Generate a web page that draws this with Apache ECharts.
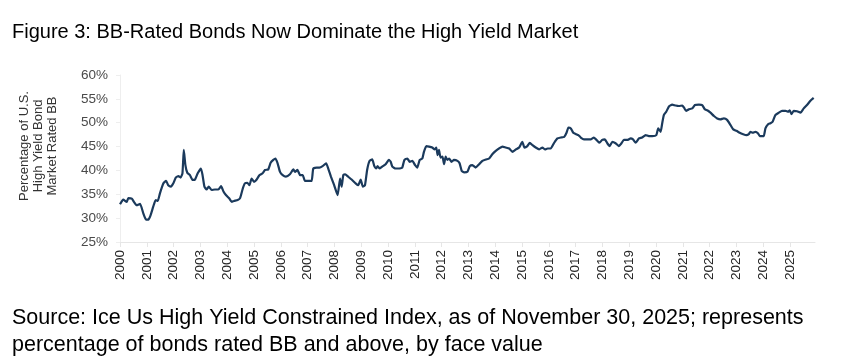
<!DOCTYPE html>
<html>
<head>
<meta charset="utf-8">
<script src="https://cdn.jsdelivr.net/npm/echarts@6/dist/echarts.min.js"></script>
<style>
html,body{margin:0;padding:0;background:#fff;}
#chart{width:849px;height:363px;}
</style>
</head>
<body>
<div id="chart"></div>
<script>
// Decimal-year positions of readings, one line per year
const dates = [
  2000.00,2000.12,2000.25,2000.31,2000.44,2000.52,2000.62,2000.75,2000.87,2000.97,
  2001.06,2001.14,2001.24,2001.33,2001.41,2001.49,2001.62,2001.72,2001.80,2001.90,2001.99,
  2002.08,2002.18,2002.26,2002.33,2002.38,2002.44,2002.51,2002.61,2002.71,2002.80,2002.90,
  2003.02,2003.08,2003.15,2003.23,2003.31,2003.42,2003.54,2003.67,2003.77,2003.86,2003.96,
  2004.08,2004.17,2004.25,2004.39,2004.48,2004.58,2004.66,2004.75,2004.83,2004.91,
  2005.00,2005.10,2005.20,2005.32,2005.41,2005.53,2005.62,2005.72,2005.80,2005.88,2005.97,
  2006.07,2006.19,2006.34,2006.47,2006.53,2006.62,2006.72,2006.82,2006.90,
  2007.03,2007.15,2007.21,2007.34,2007.44,2007.56,2007.69,2007.77,2007.87,2007.99,
  2008.12,2008.21,2008.27,2008.33,2008.40,2008.51,2008.66,2008.79,2008.89,2008.98,
  2009.06,2009.14,2009.22,2009.31,2009.41,2009.49,2009.56,2009.61,2009.68,2009.78,2009.91,
  2010.03,2010.10,2010.16,2010.28,2010.41,2010.53,2010.61,2010.72,2010.81,2010.91,
  2011.01,2011.09,2011.18,2011.28,2011.34,2011.43,2011.53,2011.65,2011.74,2011.80,2011.85,2011.90,2011.96,
  2012.03,2012.09,2012.15,2012.21,2012.28,2012.37,2012.46,2012.59,2012.67,2012.75,2012.84,2012.96,
  2013.05,2013.15,2013.27,2013.40,2013.52,2013.65,2013.77,2013.89,
  2014.02,2014.14,2014.27,2014.39,2014.52,2014.64,2014.77,2014.89,
  2015.01,2015.09,2015.20,2015.29,2015.39,2015.51,2015.64,2015.76,2015.86,2015.95,
  2016.07,2016.20,2016.32,2016.45,2016.57,2016.66,2016.73,2016.82,2016.91,
  2017.02,2017.10,2017.19,2017.31,2017.43,2017.56,2017.68,2017.81,2017.89,2017.99,
  2018.09,2018.18,2018.27,2018.37,2018.49,2018.61,2018.71,2018.80,2018.93,
  2019.05,2019.14,2019.24,2019.36,2019.48,2019.61,2019.73,2019.86,
  2020.01,2020.08,2020.17,2020.23,2020.29,2020.38,2020.48,2020.60,2020.73,2020.85,2020.98,
  2021.04,2021.12,2021.22,2021.35,2021.45,2021.60,2021.72,2021.82,2021.91,
  2022.03,2022.16,2022.28,2022.40,2022.53,2022.65,2022.78,2022.88,
  2023.00,2023.12,2023.25,2023.37,2023.46,2023.52,2023.61,2023.71,2023.80,2023.87,2023.96,
  2024.02,2024.08,2024.18,2024.27,2024.35,2024.45,2024.58,2024.70,2024.83,2024.93,2024.99,
  2025.05,2025.14,2025.26,2025.39,2025.51,2025.63,2025.76,2025.88
];
// Percentage of U.S. high yield market rated BB (and above)
const bbShare = [
  32.9,33.9,33.4,34.2,34.1,33.4,32.7,33.0,31.0,29.7,
  29.7,30.6,32.4,33.8,33.6,35.2,37.3,37.8,36.9,36.6,37.3,
  38.5,38.8,38.5,39.4,44.3,41.1,39.5,39.0,38.0,38.1,39.4,
  40.4,39.0,36.6,36.0,36.6,35.9,36.0,36.0,36.7,35.6,34.8,
  34.1,33.4,33.6,33.8,34.2,36.2,37.3,37.4,36.9,38.3,
  37.6,38.1,39.0,39.4,40.1,40.2,41.6,42.2,42.5,41.5,39.7,
  39.0,38.7,39.2,40.2,39.7,40.1,39.0,39.0,37.8,
  37.8,37.8,40.4,40.6,40.6,40.9,41.5,40.4,38.7,36.9,
  34.8,38.3,36.6,39.0,39.2,38.7,38.0,37.3,36.9,38.1,
  36.6,36.9,40.1,42.0,42.3,40.9,40.4,40.9,40.4,40.8,41.3,
  42.2,41.8,40.8,40.4,40.4,40.6,42.2,42.5,41.8,42.0,
  41.1,40.6,42.2,42.5,43.9,45.1,45.0,44.8,44.4,44.8,43.2,44.3,42.7,
  42.9,41.3,42.9,42.2,42.5,41.8,42.2,42.0,41.5,39.9,39.6,39.7,
  40.9,41.1,40.6,41.3,42.0,42.3,42.5,43.4,
  44.1,44.6,45.0,44.8,44.6,43.9,44.4,44.8,
  46.0,44.8,45.1,45.8,45.3,44.8,44.4,44.8,44.4,44.6,
  44.6,45.8,46.7,46.9,47.0,47.9,49.0,48.8,47.9,
  47.6,47.4,46.9,46.5,46.5,46.5,46.9,46.2,45.8,46.4,
  46.5,45.7,45.1,46.0,45.7,45.1,45.7,46.4,46.4,
  46.7,46.5,45.8,46.7,46.9,47.4,47.2,47.2,
  47.4,48.8,48.1,49.9,51.6,52.3,53.4,53.8,53.6,53.5,53.6,
  53.2,52.5,52.8,53.0,53.7,53.8,53.7,52.8,52.6,
  52.1,51.4,50.9,50.7,50.9,50.6,49.5,48.6,
  48.3,47.9,47.6,47.4,47.6,48.1,47.9,48.1,47.8,47.2,47.2,
  47.2,48.8,49.7,49.9,50.2,51.6,52.1,52.5,52.5,52.3,52.6,
  51.8,52.5,52.4,52.1,53.0,53.7,54.6,55.2
];
const yTicks = {min: 25, max: 60, step: 5};
const xRange = {first: 2000, last: 2025.93};
const titleText = 'Figure 3: BB-Rated Bonds Now Dominate the High Yield Market';
const yAxisTitle = 'Percentage of U.S.\nHigh Yield Bond\nMarket Rated BB';
const sourceLines = [
  'Source: Ice Us High Yield Constrained Index, as of November 30, 2025; represents',
  'percentage of bonds rated BB and above, by face value'
];

const seriesData = dates.map((d, i) => [d, bbShare[i]]);
const FONT = '"Liberation Sans", Arial, sans-serif';

const chart = echarts.init(document.getElementById('chart'), null, {renderer: 'canvas'});
chart.setOption({
  animation: false,
  backgroundColor: '#ffffff',
  grid: {left: 120, right: 34, top: 75, bottom: 121, containLabel: false},
  xAxis: {
    type: 'value',
    min: xRange.first,
    max: xRange.last,
    interval: 1,
    axisLine: {show: true, lineStyle: {color: '#e6e6e6', width: 1}},
    axisTick: {show: true, length: 5, lineStyle: {color: '#e6e6e6'}},
    splitLine: {show: false},
    axisLabel: {
      rotate: 90,
      margin: 8,
      fontFamily: FONT,
      fontSize: 13.5,
      color: '#262626',
      showMaxLabel: false,
      formatter: v => (Math.abs(v - Math.round(v)) < 1e-6 ? String(Math.round(v)) : '')
    }
  },
  yAxis: {
    type: 'value',
    min: yTicks.min,
    max: yTicks.max,
    interval: yTicks.step,
    axisLine: {show: true, lineStyle: {color: '#eeeeee', width: 1}},
    axisTick: {show: true, length: 4, lineStyle: {color: '#eeeeee'}},
    splitLine: {show: false},
    axisLabel: {
      margin: 12,
      fontFamily: FONT,
      fontSize: 13.5,
      color: '#4a4a4a',
      formatter: '{value}%'
    }
  },
  series: [{
    type: 'line',
    data: seriesData,
    showSymbol: false,
    smooth: 0.15,
    lineStyle: {color: '#1b3a5c', width: 2.2},
    itemStyle: {color: '#1b3a5c'}
  }],
  graphic: [
    {
      type: 'text', left: 12, top: 22,
      style: {text: titleText, font: '20px ' + FONT, fill: '#000000'}
    },
    {
      type: 'text', x: 38, y: 146, rotation: Math.PI / 2,
      style: {
        text: yAxisTitle, font: '13px ' + FONT, fill: '#333333',
        align: 'center', verticalAlign: 'middle', lineHeight: 14
      }
    },
    {
      type: 'text', left: 12, top: 305,
      style: {text: sourceLines.join('\n'), font: '21.5px ' + FONT, fill: '#000000', lineHeight: 27}
    }
  ]
});
</script>
</body>
</html>
